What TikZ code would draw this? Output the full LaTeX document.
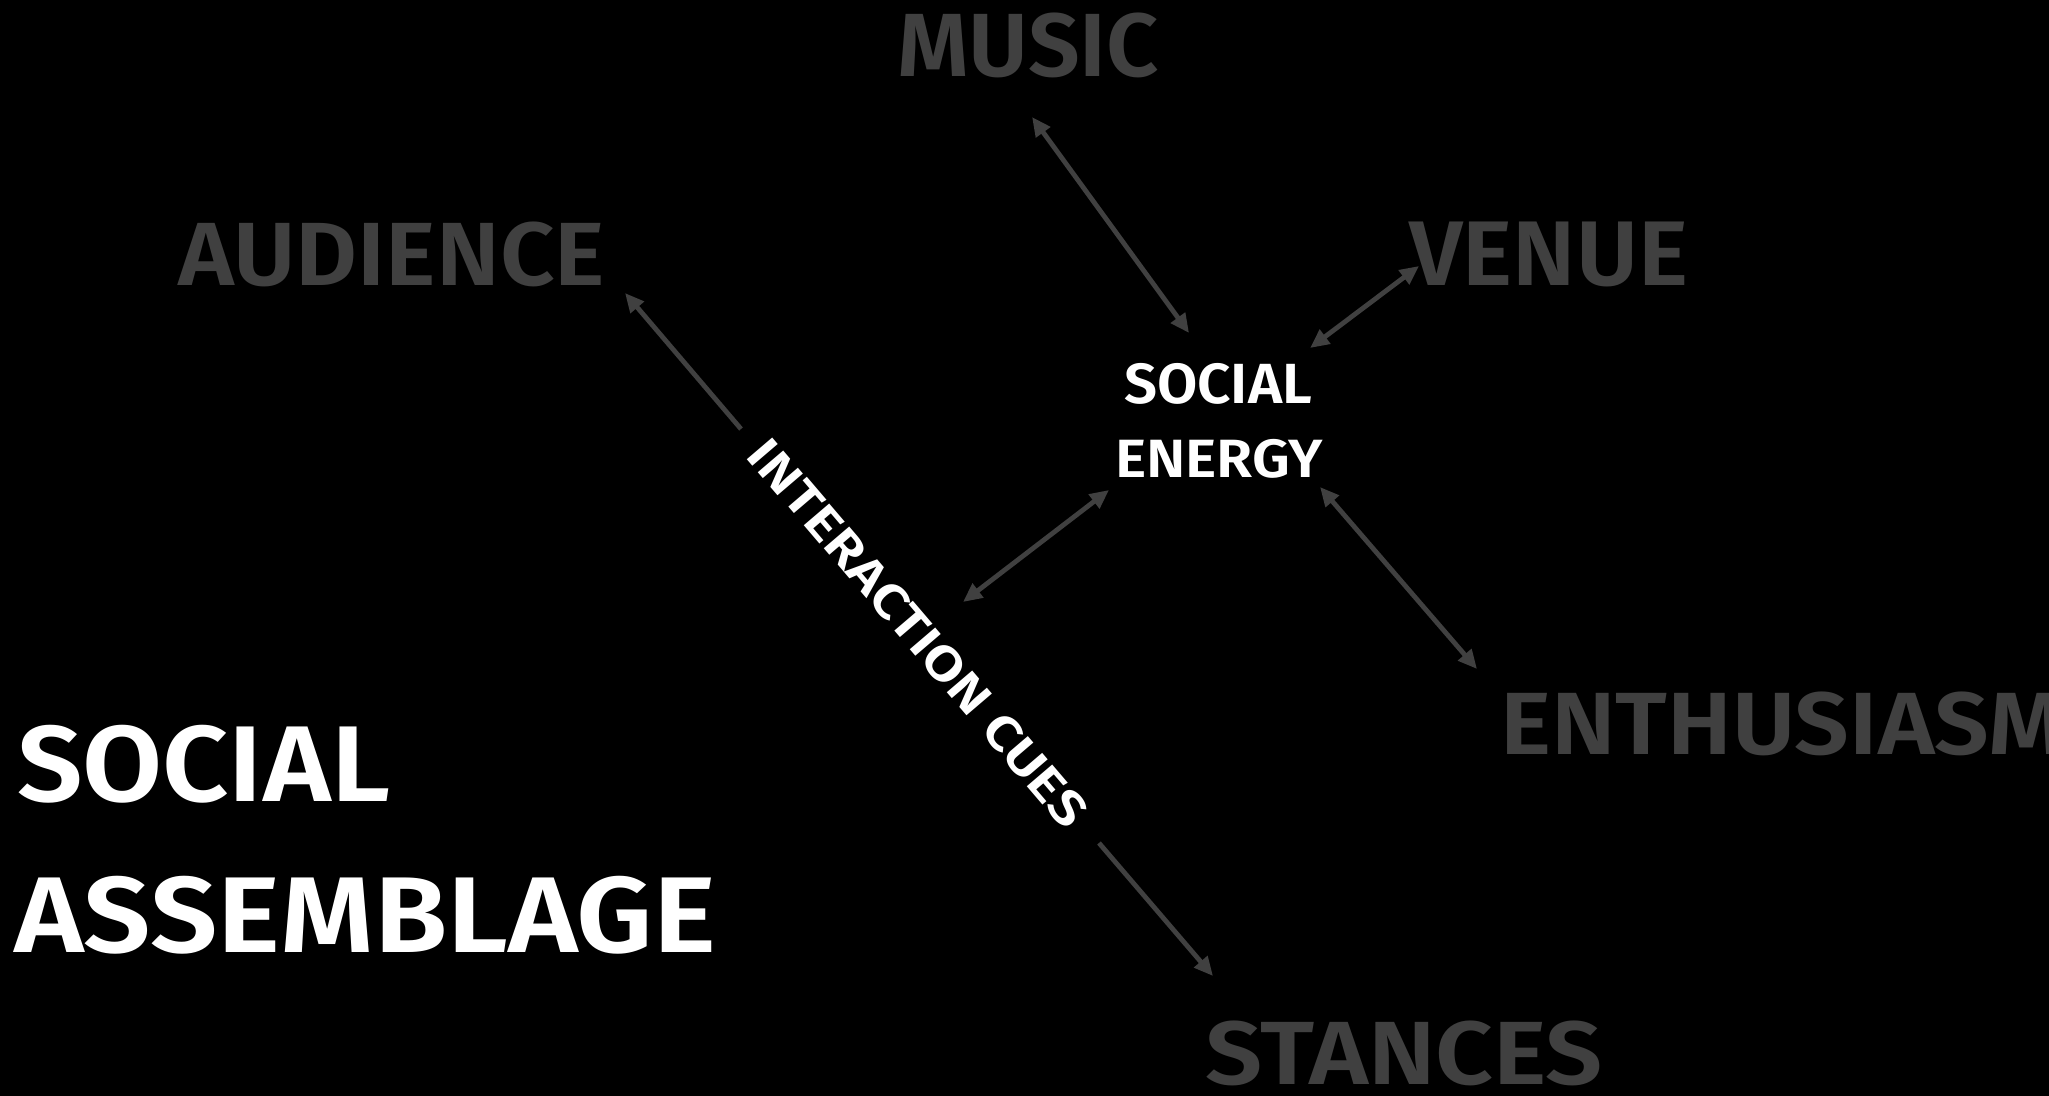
\documentclass[tikz,border=0pt]{standalone}
\usepackage{fontspec}
\setmainfont{Fira Sans}[BoldFont={Fira Sans SemiBold}]
\usetikzlibrary{arrows.meta,calc}
\newlength\upx \setlength\upx{0.5pt}
\definecolor{greytxt}{RGB}{64,64,64}
\definecolor{linegrey}{RGB}{64,64,64}
\newcommand\fitbox[3]{\resizebox*{#1\upx}{#2\upx}{#3}}
\tikzset{
  lbl/.style={inner sep=0, outer sep=0, anchor=north west, text=greytxt, font=\bfseries},
  wlbl/.style={inner sep=0, outer sep=0, anchor=north west, text=white, font=\bfseries},
  arr/.style={draw=linegrey, line width=2.4pt, {Triangle[length=9.5pt,width=8.5pt]}-{Triangle[length=9.5pt,width=8.5pt]}},
  halfarr/.style={draw=linegrey, line width=2.4pt, -{Triangle[length=9.5pt,width=8.5pt]}},
}
\begin{document}
\begin{tikzpicture}[x=0.5pt, y=-0.5pt]
\fill[black] (0,0) rectangle (2049,1096);
\useasboundingbox (0,0) rectangle (2049,1096);

% grey labels
\node[lbl] (music)    at (897,13)   {\fitbox{262}{65}{MUSIC}};
\node[lbl] (audience) at (178,222)  {\fitbox{427}{65}{AUDIENCE}};
\node[lbl] (venue)    at (1409,222) {\fitbox{279}{65}{VENUE}};
\node[lbl] (enth)     at (1500,692) {\fitbox{564}{64}{ENTHUSIASM}};
\node[lbl] (stances)  at (1205,1021){\fitbox{398}{65}{STANCES}};

% white labels
\node[wlbl] (sea) at (1124,363) {\fitbox{188}{41}{SOCIAL}};
\node[wlbl] (seb) at (1115,439) {\fitbox{208}{39}{ENERGY}};
\node[wlbl] (sa1) at (17,725)   {\fitbox{373}{78}{SOCIAL}};
\node[wlbl] (sa2) at (14,876)   {\fitbox{702}{78}{ASSEMBLAGE}};
\node[inner sep=0, outer sep=0, rotate=-49.5, text=white, font=\bfseries] (cues) at (918,633) {\fitbox{494}{35}{INTERACTION CUES}};

% connectors
\draw[arr] ($(music.south)+(4,39)$) -- ($(sea.north)+(-29,-30)$);
\draw[arr] ($(venue.south west)+(10,-21)$) -- ($(sea.north east)+(-2,-15)$);
\draw[arr] ($(seb.south east)+(-3,9)$) -- ($(enth.north west)+(-23,-23)$);
\draw[arr] ($(seb.south west)+(-6,12)$) -- ($(cues.center)+(45,-31)$);
\draw[halfarr] ($(cues.center)+(-177,-204)$) -- ($(audience.south east)+(20,6)$);
\draw[halfarr] ($(cues.center)+(181,210)$) -- ($(stances.north west)+(8,-45)$);
\end{tikzpicture}
\end{document}
